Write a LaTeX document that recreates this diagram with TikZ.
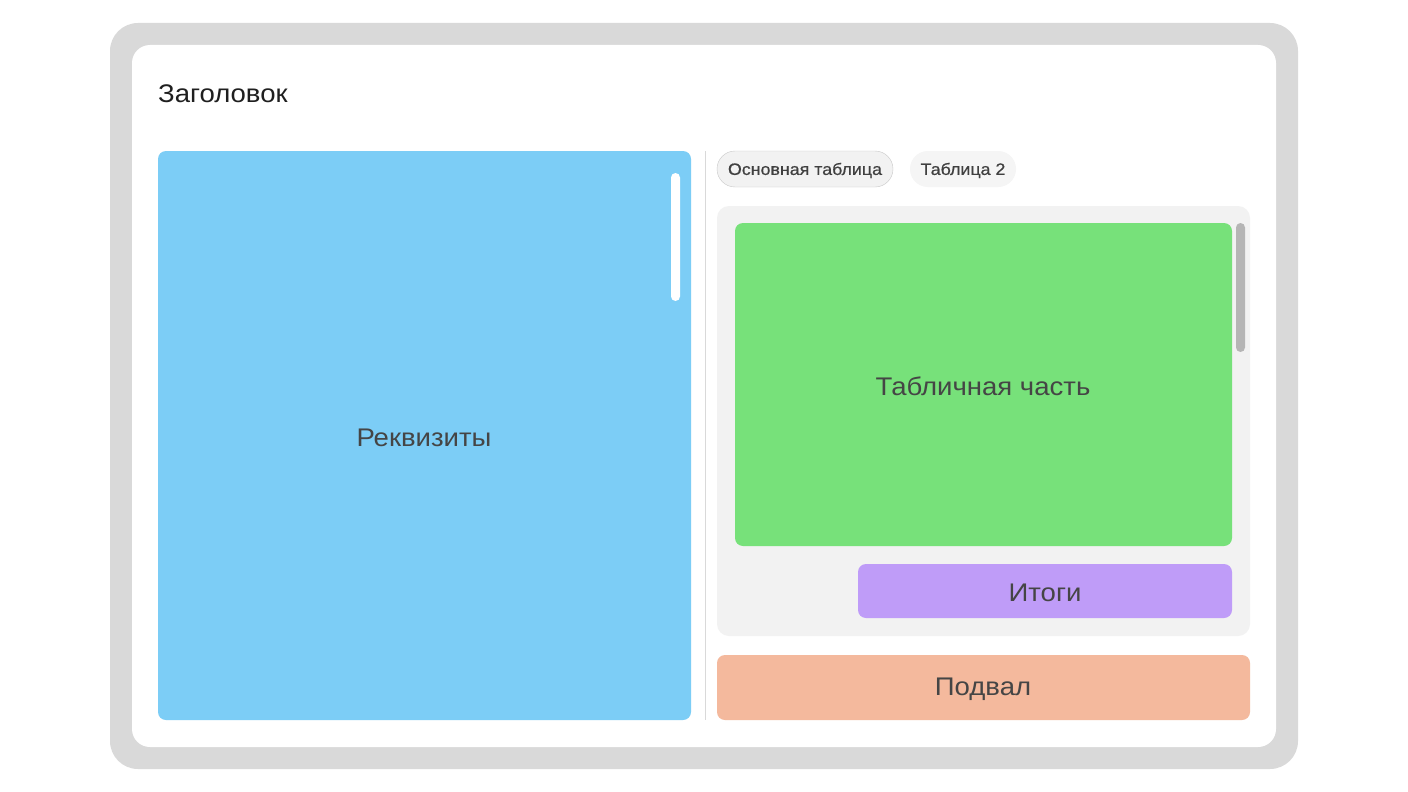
\documentclass[tikz,border=0pt]{standalone}
\usepackage{fontspec}
\setmainfont{Liberation Sans}[FakeStretch=1.08]
\newfontfamily\tabfont{Liberation Sans}[FakeStretch=1.08,FakeBold=0.6]
\begin{document}
\begin{tikzpicture}[x=1pt,y=-1pt,
  panel/.style={rounded corners=8pt, draw=none},
  lbl/.style={text=black!73, font=\fontsize{25.5}{30}\selectfont},
  tabtxt/.style={font=\tabfont\fontsize{16.5}{19}\selectfont, text=black!75},
  tab/.style={rounded corners=18pt}]
\useasboundingbox (0,0) rectangle (1408,792);
\fill[white] (0,0) rectangle (1408,792);
% frame
\fill[black!15, rounded corners=28pt] (110,23) rectangle (1298,769);
\fill[white, rounded corners=18pt] (132,45) rectangle (1276,747);
\node[anchor=base west, font=\fontsize{25.5}{30}\selectfont, text=black!88, inner sep=0pt] (title) at (158,102) {Заголовок};
% left panel
\fill[panel, fill={rgb,255:red,124;green,205;blue,246}] (158,151) rectangle (691,720);
\fill[white, rounded corners=4.5pt] (671,173) rectangle (680,301);
\node[lbl] (rekv) at (424,437.5) {Реквизиты};
% divider
\draw[black!15, line width=1pt] (705,151) -- (705,720);
% tabs
\draw[tab, fill={rgb,255:red,242;green,242;blue,242}, draw={rgb,255:red,200;green,200;blue,200}] (717,151) rectangle (893,187);
\node[tabtxt] (t1) at (805,170.5) {Основная таблица};
\fill[tab, fill={rgb,255:red,245;green,245;blue,245}] (910,151) rectangle (1016,187);
\node[tabtxt] (t2) at (963,170.5) {Таблица 2};
% container
\fill[rounded corners=12pt, fill={rgb,255:red,242;green,242;blue,242}] (717,206) rectangle (1250,636);
\fill[panel, fill={rgb,255:red,119;green,225;blue,122}] (735,223) rectangle (1232,546);
\fill[rounded corners=4.5pt, fill={rgb,255:red,181;green,181;blue,181}] (1236,223) rectangle (1245,352);
\node[lbl] (tab) at (983,386) {Табличная часть};
\fill[panel, fill={rgb,255:red,191;green,156;blue,248}] (858,564) rectangle (1232,618);
\node[lbl] (itogi) at (1045,592.5) {Итоги};
% footer
\fill[panel, fill={rgb,255:red,244;green,185;blue,157}] (717,655) rectangle (1250,720);
\node[lbl] (podval) at (983,689.5) {Подвал};
\end{tikzpicture}
\end{document}
